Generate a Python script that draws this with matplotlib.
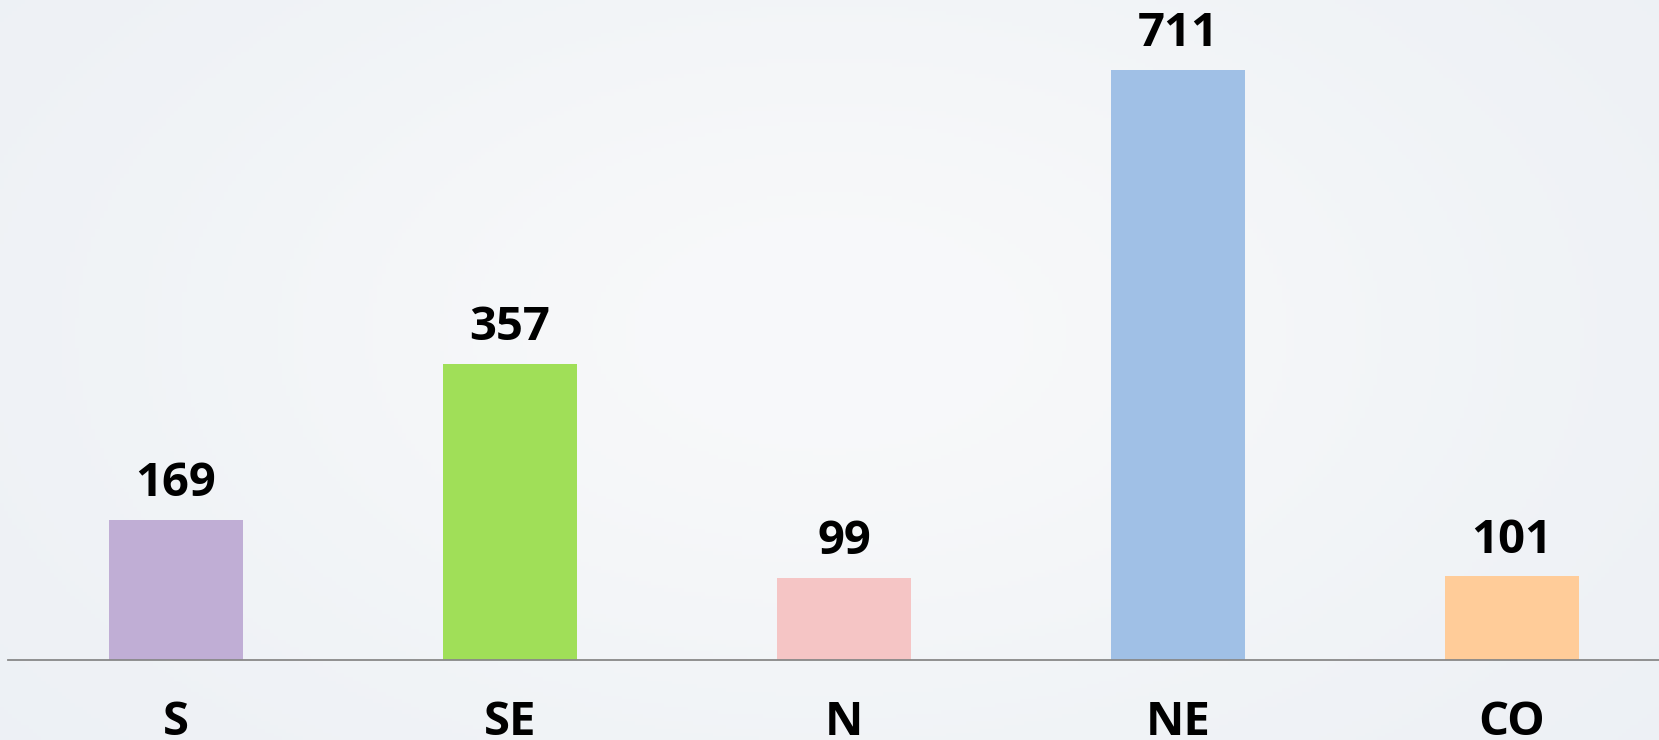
import numpy as np
import matplotlib.pyplot as plt

regions = ['S', 'SE', 'N', 'NE', 'CO']
values = [169, 357, 99, 711, 101]
colors = ['#c0aed5', '#a0df58', '#f5c5c5', '#a0c0e6', '#ffcc99']

fig = plt.figure(figsize=(16.59, 7.40), dpi=100)

# light background with a soft glow in the middle
bg = fig.add_axes([0, 0, 1, 1], zorder=0)
yy, xx = np.mgrid[0:1:200j, 0:1:400j]
glow = np.exp(-(((xx - 0.5) / 0.45) ** 2 + ((yy - 0.45) / 0.6) ** 2))
base = np.array([0.925, 0.94, 0.958])
top = np.array([0.972, 0.976, 0.982])
img = base + (top - base) * glow[..., None]
bg.imshow(img, aspect='auto', extent=[0, 1, 0, 1])
bg.axis('off')

ax = fig.add_axes([8 / 1659, 80 / 740, 1 - 8 / 1659, 660 / 740], zorder=1)
ax.patch.set_alpha(0)
x = np.arange(len(regions))
ax.bar(x, values, width=0.40, color=colors)

for xi, v in zip(x, values):
    ax.annotate(str(v), (xi, v), xytext=(0, 17), textcoords='offset points',
                ha='center', va='baseline', fontsize=34, fontweight='bold',
                family='Open Sans', color='black')

ax.set_xlim(-0.503, 4.44)
ax.set_ylim(0, 795)
for side in ['top', 'left', 'right']:
    ax.spines[side].set_visible(False)
ax.spines['bottom'].set_color('#888888')
ax.spines['bottom'].set_linewidth(1.3)
ax.set_yticks([])
ax.set_xticks(x)
ax.set_xticklabels(regions, fontsize=34, fontweight='bold', family='Open Sans')
ax.tick_params(axis='x', length=0, pad=28)

fig.savefig('out.png', dpi=100)
